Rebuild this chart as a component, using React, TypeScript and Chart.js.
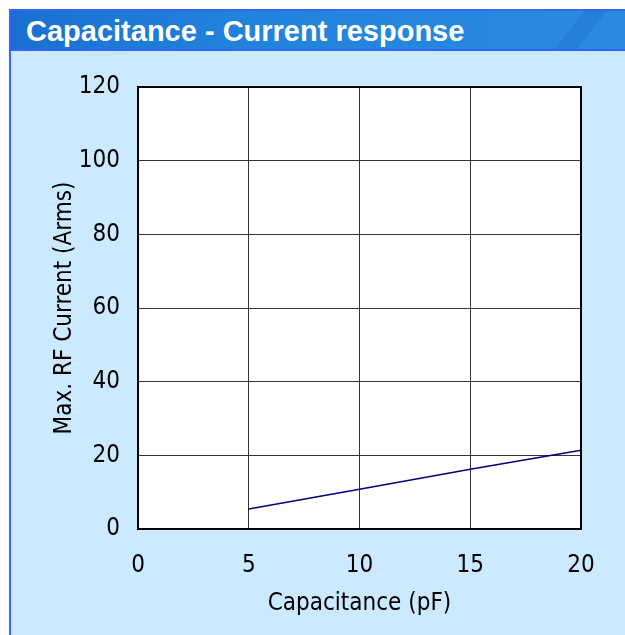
import React, { useEffect, useRef } from "react";
import { Chart, registerables } from "chart.js";

Chart.register(...registerables);

const TITLE = "Capacitance - Current response";
const X_TITLE = "Capacitance (pF)";
const Y_TITLE = "Max. RF Current (Arms)";
const capacitance = [5, 10, 15, 20];
const current = [5.4, 10.8, 16.2, 21.4];
const X_MIN = 0, X_MAX = 20, X_STEP = 5;
const Y_MIN = 0, Y_MAX = 120, Y_STEP = 20;

const FONT = "'Liberation Sans Narrow', 'DejaVu Sans Condensed', 'Liberation Sans', sans-serif";

const plotFrame = {
  id: "plotFrame",
  beforeDraw(chart: any) {
    const { ctx, chartArea: a } = chart;
    ctx.save();
    ctx.fillStyle = "#ffffff";
    ctx.fillRect(a.left, a.top, a.right - a.left, a.bottom - a.top);
    ctx.restore();
  },
  afterDraw(chart: any) {
    const { ctx, chartArea: a } = chart;
    ctx.save();
    ctx.strokeStyle = "#000000";
    ctx.lineWidth = 2;
    ctx.strokeRect(a.left, a.top, a.right - a.left, a.bottom - a.top);
    ctx.restore();
  },
};

export default function App() {
  const ref = useRef<HTMLCanvasElement | null>(null);
  useEffect(() => {
    if (!ref.current) return;
    const chart = new Chart(ref.current, {
      type: "line",
      data: {
        datasets: [
          {
            data: capacitance.map((c, i) => ({ x: c, y: current[i] })),
            borderColor: "#000080",
            borderWidth: 1.5,
            pointRadius: 0,
            fill: false,
            tension: 0,
          },
        ],
      },
      options: {
        responsive: false,
        animation: false,
        layout: { padding: { left: 0, top: 87, right: 44, bottom: 0 } },
        plugins: { legend: { display: false }, tooltip: { enabled: false } },
        scales: {
          x: {
            type: "linear",
            min: X_MIN,
            max: X_MAX,
            afterFit(scale: any) { scale.height = 106; },
            ticks: { stepSize: X_STEP, color: "#000", font: { family: FONT, size: 24 }, padding: 22, maxRotation: 0 },
            grid: { color: "#333333", lineWidth: 1, drawTicks: false },
            border: { display: false },
            title: { display: true, text: X_TITLE, color: "#000", font: { family: FONT, size: 24 }, padding: { top: 0, bottom: 17 } },
          },
          y: {
            type: "linear",
            min: Y_MIN,
            max: Y_MAX,
            afterFit(scale: any) { scale.width = 138; },
            ticks: { stepSize: Y_STEP, color: "#000", font: { family: FONT, size: 24 }, padding: 18 },
            grid: { color: "#333333", lineWidth: 1, drawTicks: false },
            border: { display: false },
            title: { display: true, text: Y_TITLE, color: "#000", font: { family: FONT, size: 24 }, padding: { top: 50, bottom: 0 } },
          },
        },
      },
      plugins: [plotFrame],
    });
    return () => chart.destroy();
  }, []);

  return (
    <div>
      <div
        style={{
          position: "fixed",
          left: 9,
          top: 9,
          right: 0,
          bottom: 0,
          background: "#cceaff",
          borderLeft: "2px solid #3366ff",
          borderTop: "2px solid #3366ff",
          boxSizing: "border-box",
        }}
      >
        <div
          style={{
            height: 38,
            borderBottom: "2px solid #3366ff",
            background: "linear-gradient(90deg, #1a70d2 0%, #2283dc 40%, #2a8be0 100%)",
            position: "relative",
            overflow: "hidden",
          }}
        >
          <div
            style={{
              position: "absolute",
              right: 38,
              top: -5,
              width: 22,
              height: 60,
              background: "rgba(20,90,180,0.22)",
              transform: "skewX(-38deg)",
            }}
          />
          <div
            style={{
              position: "absolute",
              left: 15,
              top: 3,
              color: "#ffffff",
              fontFamily: "'Liberation Sans', Arial, sans-serif",
              fontWeight: "bold",
              fontSize: 29,
              lineHeight: "34px",
              whiteSpace: "nowrap",
            }}
          >
            {TITLE}
          </div>
        </div>
      </div>
      <canvas
        ref={ref}
        width={625}
        height={635}
        style={{ position: "fixed", left: 0, top: 0, width: 625, height: 635 }}
      />
    </div>
  );
}
